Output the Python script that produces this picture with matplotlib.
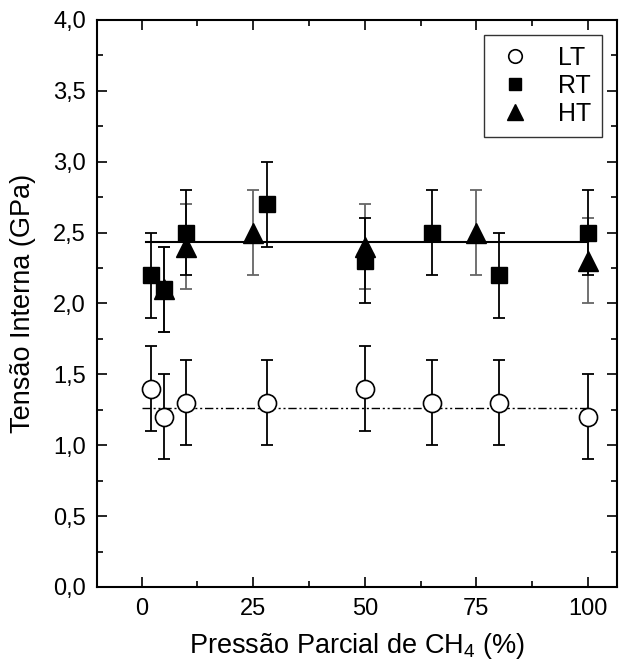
import numpy as np
import matplotlib
matplotlib.use('Agg')
import matplotlib.pyplot as plt
from matplotlib.ticker import MultipleLocator, FuncFormatter

plt.rcParams['font.family'] = ['Liberation Sans', 'DejaVu Sans']
plt.rcParams['mathtext.default'] = 'regular'

# LT (circulos)
x_lt = [2, 5, 10, 28, 50, 65, 80, 100]
y_lt = [1.4, 1.2, 1.3, 1.3, 1.4, 1.3, 1.3, 1.2]
e_lt = [0.3, 0.3, 0.3, 0.3, 0.3, 0.3, 0.3, 0.3]

# RT (quadrados)
x_rt = [2, 5, 10, 28, 50, 65, 80, 100]
y_rt = [2.2, 2.1, 2.5, 2.7, 2.3, 2.5, 2.2, 2.5]
e_rt = [0.3, 0.3, 0.3, 0.3, 0.3, 0.3, 0.3, 0.3]

# HT (triangulos)
x_ht = [5, 10, 25, 50, 75, 100]
y_ht = [2.1, 2.4, 2.5, 2.4, 2.5, 2.3]
e_ht = [0.3, 0.3, 0.3, 0.3, 0.3, 0.3]

# medias (linhas)
media_lt = 1.265
media_rt = 2.432
x_media_lt = [0, 100]
x_media_rt = [1, 100]

fig = plt.figure(figsize=(6.28, 6.71), dpi=100)
ax = fig.add_axes([0.1545, 0.1252, 0.828, 0.845])

ax.plot(x_media_lt, [media_lt, media_lt], color='black', lw=1.0,
        dashes=[6, 2, 1.5, 2, 1.5, 2])
ax.plot(x_media_rt, [media_rt, media_rt], '-k', lw=1.5)

ax.errorbar(x_ht, y_ht, yerr=e_ht, fmt='none', ecolor='#666666',
            elinewidth=1.3, capsize=4.5, capthick=1.3)
ax.errorbar(x_rt, y_rt, yerr=e_rt, fmt='none', ecolor='black',
            elinewidth=1.3, capsize=4.5, capthick=1.3)
ax.errorbar(x_lt, y_lt, yerr=e_lt, fmt='none', ecolor='black',
            elinewidth=1.3, capsize=4.5, capthick=1.3)

ax.plot(x_lt, y_lt, 'o', ms=13, mfc='white', mec='black', mew=1.2, label='LT')
ax.plot(x_rt, y_rt, 's', ms=12, color='black', label='RT')
ax.plot(x_ht, y_ht, '^', ms=15, color='black', label='HT')

ax.set_xlim(-10, 106.5)
ax.set_ylim(0, 4.0)

ax.xaxis.set_major_locator(MultipleLocator(25))
ax.xaxis.set_minor_locator(MultipleLocator(12.5))
ax.yaxis.set_major_locator(MultipleLocator(0.5))
ax.yaxis.set_minor_locator(MultipleLocator(0.25))
ax.yaxis.set_major_formatter(FuncFormatter(lambda v, p: f'{v:.1f}'.replace('.', ',')))

ax.tick_params(which='both', direction='in', top=True, right=True, width=1.2,
               labelsize=17, pad=8)
ax.tick_params(which='major', length=7)
ax.tick_params(which='minor', length=4)
for s in ax.spines.values():
    s.set_linewidth(1.5)

ax.set_xlabel('Pressão Parcial de CH$_4$ (%)', fontsize=19.5, labelpad=8)
ax.set_ylabel('Tensão Interna (GPa)', fontsize=19.5, labelpad=12)

leg = ax.legend(loc='upper right', fontsize=18, markerscale=0.75, frameon=True,
                fancybox=False, edgecolor='black', borderpad=0.45,
                handlelength=1.6, handletextpad=0.9, labelspacing=0.15,
                borderaxespad=0.6)
leg.get_frame().set_linewidth(1.0)

plt.savefig('out.png', dpi=100)
